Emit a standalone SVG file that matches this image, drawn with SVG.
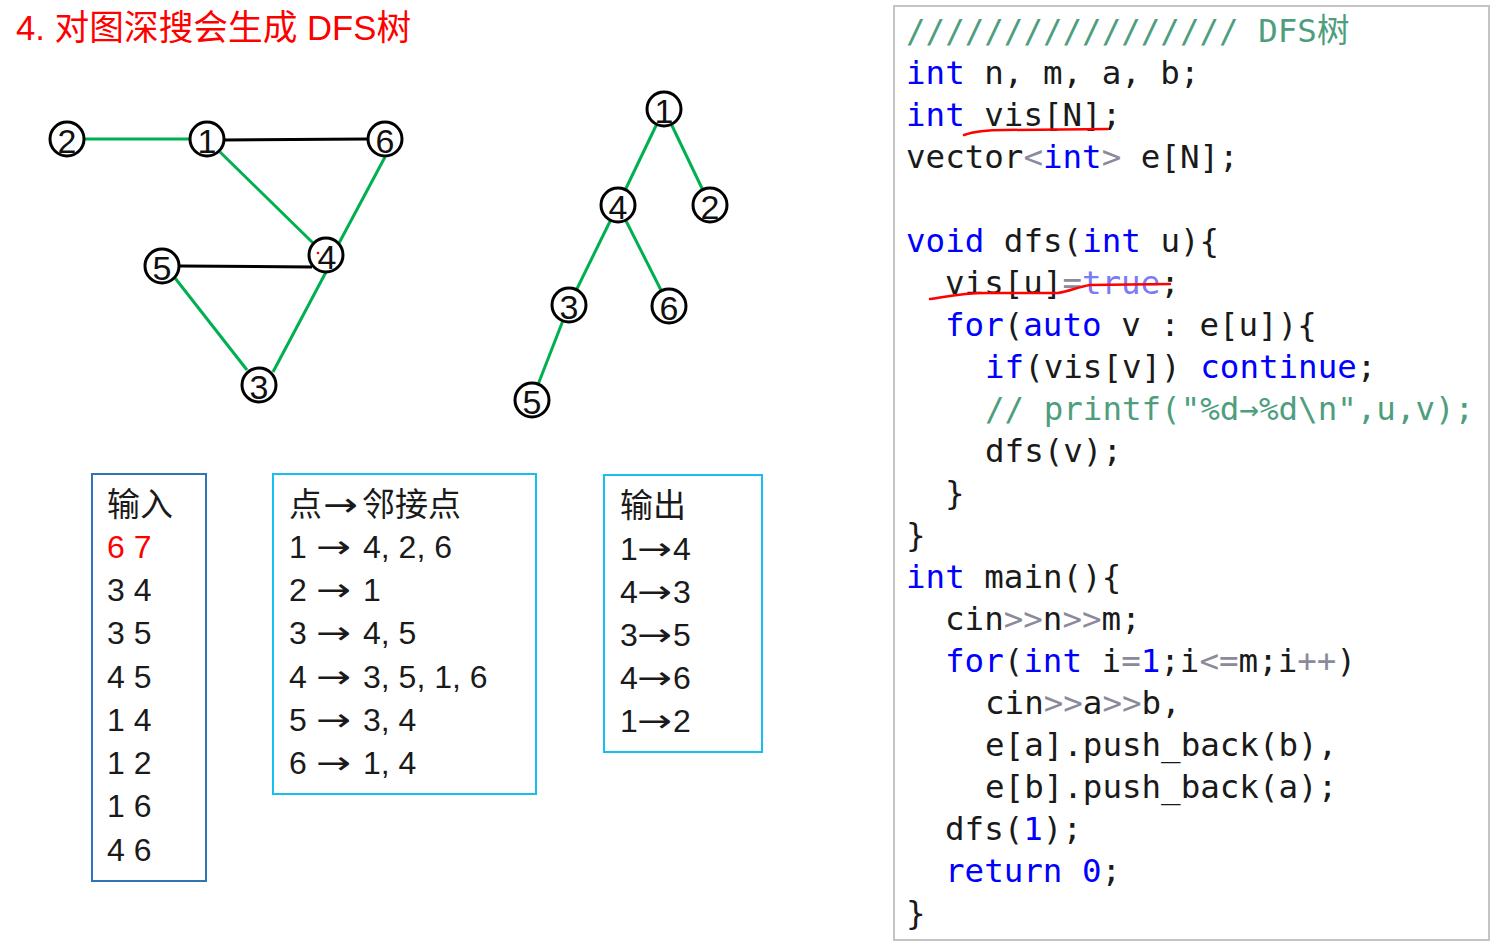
<svg xmlns="http://www.w3.org/2000/svg" width="1510" height="952" viewBox="0 0 1510 952">
<defs>
<style>
.t{font-family:"Liberation Sans","Noto Sans CJK SC",sans-serif;font-size:32px;fill:#1a1a1a}
.h{font-family:"Noto Sans CJK SC","Liberation Sans",sans-serif;font-size:33px;fill:#1a1a1a}
.ar{font-family:"DejaVu Sans","Noto Sans CJK SC",sans-serif}
.nd circle{fill:#fff;stroke:#000;stroke-width:3}
.nd text{font-family:"Liberation Sans",sans-serif;font-size:34px;fill:#111;text-anchor:middle}
.g{stroke:#00B050;stroke-width:3;fill:none}
.k{stroke:#000;stroke-width:3;fill:none}
.code{font-family:"DejaVu Sans Mono","Noto Sans CJK SC",monospace;font-size:32.5px;fill:#1a1a1a}
.kw{fill:#0000FF}
.op{fill:#8a8a9c}
.tr{fill:#7b7bf5}
.cm{fill:#4e9e7e}
.red{stroke:#FF0000;stroke-width:2.5;fill:none;stroke-linecap:round}
</style>
</defs>
<rect width="1510" height="952" fill="#fff"/>
<text x="16" y="40" style="font-family:'Liberation Sans','Noto Sans CJK SC',sans-serif;font-size:34.7px;fill:#FF0000">4. 对图深搜会生成 DFS树</text>

<g id="connectors">
<line class="g" x1="85" y1="139" x2="191" y2="139"/>
<line class="k" x1="224" y1="140" x2="368" y2="139"/>
<line class="g" x1="220" y1="152" x2="313" y2="243"/>
<line class="g" x1="385" y1="157" x2="338" y2="245"/>
<line class="k" x1="180" y1="266" x2="312" y2="267"/>
<line class="g" x1="175" y1="278" x2="247" y2="370"/>
<line class="g" x1="326" y1="272" x2="273" y2="372"/>
<line class="g" x1="664" y1="109" x2="618" y2="205"/>
<line class="g" x1="664" y1="109" x2="710" y2="205"/>
<line class="g" x1="618" y1="205" x2="569" y2="305"/>
<line class="g" x1="618" y1="205" x2="669" y2="306"/>
<line class="g" x1="569" y1="305" x2="532" y2="400"/>
</g>

<g id="g1" class="nd"><circle cx="207" cy="139" r="17"/><text x="207" y="153">1</text></g>
<g id="g2" class="nd"><circle cx="67" cy="139" r="17"/><text x="67" y="153">2</text></g>
<g id="g3" class="nd"><circle cx="259" cy="385" r="17"/><text x="259" y="399">3</text></g>
<g id="g4" class="nd"><circle cx="326" cy="255" r="17"/><text x="327" y="269">4</text><circle cx="318" cy="253" r="1.3" style="fill:#e00;stroke:none"/></g>
<g id="g5" class="nd"><circle cx="162" cy="266" r="17"/><text x="162" y="280">5</text></g>
<g id="g6" class="nd"><circle cx="385" cy="139" r="17"/><text x="385" y="153">6</text></g>

<g id="t1" class="nd"><circle cx="664" cy="109" r="17"/><text x="664" y="123">1</text></g>
<g id="t4" class="nd"><circle cx="618" cy="205" r="17"/><text x="618" y="219">4</text></g>
<g id="t2" class="nd"><circle cx="710" cy="205" r="17"/><text x="710" y="219">2</text></g>
<g id="t3" class="nd"><circle cx="569" cy="305" r="17"/><text x="569" y="319">3</text></g>
<g id="t6" class="nd"><circle cx="669" cy="306" r="17"/><text x="669" y="320">6</text></g>
<g id="t5" class="nd"><circle cx="532" cy="400" r="17"/><text x="532" y="414">5</text></g>

<g id="input-box">
<rect x="92" y="474" width="114" height="407" fill="none" stroke="#2E75B6" stroke-width="2"/>
<text class="h" x="107" y="516">输入</text>
<text class="t" x="107" y="558" style="fill:#FF0000">6 7</text>
<text class="t" x="107" y="601">3 4</text>
<text class="t" x="107" y="644">3 5</text>
<text class="t" x="107" y="688">4 5</text>
<text class="t" x="107" y="731">1 4</text>
<text class="t" x="107" y="774">1 2</text>
<text class="t" x="107" y="817">1 6</text>
<text class="t" x="107" y="861">4 6</text>
</g>

<g id="adj-box">
<rect x="273" y="474" width="263" height="320" fill="none" stroke="#17BEF0" stroke-width="2"/>
<text class="h" y="516"><tspan x="289">点</tspan><tspan class="ar" x="323" textLength="35" lengthAdjust="spacingAndGlyphs">→</tspan><tspan x="362">邻接点</tspan></text>
<text class="t" y="558"><tspan x="289">1</tspan><tspan class="ar" x="316" textLength="35" lengthAdjust="spacingAndGlyphs">→</tspan><tspan x="363">4, 2, 6</tspan></text>
<text class="t" y="601"><tspan x="289">2</tspan><tspan class="ar" x="316" textLength="35" lengthAdjust="spacingAndGlyphs">→</tspan><tspan x="363">1</tspan></text>
<text class="t" y="644"><tspan x="289">3</tspan><tspan class="ar" x="316" textLength="35" lengthAdjust="spacingAndGlyphs">→</tspan><tspan x="363">4, 5</tspan></text>
<text class="t" y="688"><tspan x="289">4</tspan><tspan class="ar" x="316" textLength="35" lengthAdjust="spacingAndGlyphs">→</tspan><tspan x="363">3, 5, 1, 6</tspan></text>
<text class="t" y="731"><tspan x="289">5</tspan><tspan class="ar" x="316" textLength="35" lengthAdjust="spacingAndGlyphs">→</tspan><tspan x="363">3, 4</tspan></text>
<text class="t" y="774"><tspan x="289">6</tspan><tspan class="ar" x="316" textLength="35" lengthAdjust="spacingAndGlyphs">→</tspan><tspan x="363">1, 4</tspan></text>
</g>

<g id="output-box">
<rect x="604" y="475" width="158" height="277" fill="none" stroke="#17BEF0" stroke-width="2"/>
<text class="h" x="620" y="517">输出</text>
<text class="t" y="560"><tspan x="620">1</tspan><tspan class="ar" x="637" textLength="35" lengthAdjust="spacingAndGlyphs">→</tspan><tspan x="673">4</tspan></text>
<text class="t" y="603"><tspan x="620">4</tspan><tspan class="ar" x="637" textLength="35" lengthAdjust="spacingAndGlyphs">→</tspan><tspan x="673">3</tspan></text>
<text class="t" y="646"><tspan x="620">3</tspan><tspan class="ar" x="637" textLength="35" lengthAdjust="spacingAndGlyphs">→</tspan><tspan x="673">5</tspan></text>
<text class="t" y="689"><tspan x="620">4</tspan><tspan class="ar" x="637" textLength="35" lengthAdjust="spacingAndGlyphs">→</tspan><tspan x="673">6</tspan></text>
<text class="t" y="732"><tspan x="620">1</tspan><tspan class="ar" x="637" textLength="35" lengthAdjust="spacingAndGlyphs">→</tspan><tspan x="673">2</tspan></text>
</g>

<g id="code-box">
<rect x="894" y="6" width="595" height="934" fill="#fff" stroke="#c4c4c4" stroke-width="2"/>
<text class="code cm" x="906" y="42">///////////////// DFS树</text>
<text class="code" x="906" y="84"><tspan class="kw">int</tspan> n, m, a, b;</text>
<text class="code" x="906" y="126"><tspan class="kw">int</tspan> vis[N];</text>
<text class="code" x="906" y="168">vector<tspan class="op">&lt;</tspan><tspan class="kw">int</tspan><tspan class="op">&gt;</tspan> e[N];</text>
<text class="code" x="906" y="252"><tspan class="kw">void</tspan> dfs(<tspan class="kw">int</tspan> u){</text>
<text class="code" x="945" y="294">vis[u]<tspan class="op">=</tspan><tspan class="tr">true</tspan>;</text>
<text class="code" x="945" y="336"><tspan class="kw">for</tspan>(<tspan class="kw">auto</tspan> v : e[u]){</text>
<text class="code" x="985" y="378"><tspan class="kw">if</tspan>(vis[v]) <tspan class="kw">continue</tspan>;</text>
<text class="code cm" x="985" y="420">// printf("%d→%d\n",u,v);</text>
<text class="code" x="985" y="462">dfs(v);</text>
<text class="code" x="945" y="504">}</text>
<text class="code" x="906" y="546">}</text>
<text class="code" x="906" y="588"><tspan class="kw">int</tspan> main(){</text>
<text class="code" x="945" y="630">cin<tspan class="op">&gt;&gt;</tspan>n<tspan class="op">&gt;&gt;</tspan>m;</text>
<text class="code" x="945" y="672"><tspan class="kw">for</tspan>(<tspan class="kw">int</tspan> i<tspan class="op">=</tspan><tspan class="kw">1</tspan>;i<tspan class="op">&lt;=</tspan>m;i<tspan class="op">++</tspan>)</text>
<text class="code" x="985" y="714">cin<tspan class="op">&gt;&gt;</tspan>a<tspan class="op">&gt;&gt;</tspan>b,</text>
<text class="code" x="985" y="756">e[a].push_back(b),</text>
<text class="code" x="985" y="798">e[b].push_back(a);</text>
<text class="code" x="945" y="840">dfs(<tspan class="kw">1</tspan>);</text>
<text class="code" x="945" y="882"><tspan class="kw">return</tspan> <tspan class="kw">0</tspan>;</text>
<text class="code" x="906" y="924">}</text>
<path class="red" d="M964,135 C975,131 990,130 1005,130 L1108,129"/>
<path class="red" d="M930,299 C950,296 965,293 985,293 L1058,293 C1070,291 1078,287 1090,285 L1170,284"/>
</g>
</svg>
